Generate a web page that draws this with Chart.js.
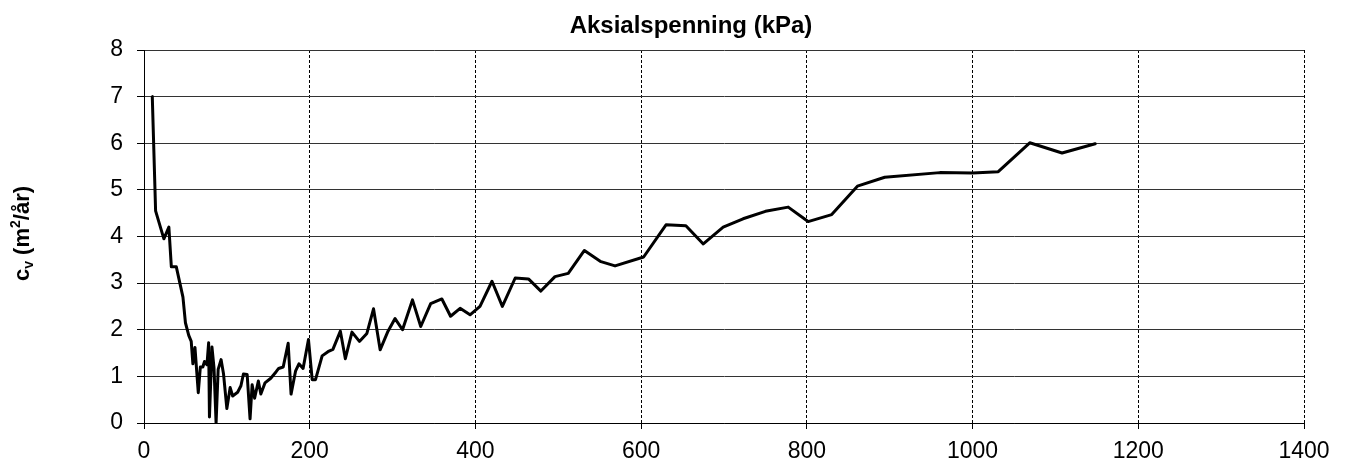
<!DOCTYPE html>
<html>
<head>
<meta charset="utf-8">
<title>Aksialspenning og cv</title>
<script src="https://cdn.jsdelivr.net/npm/chart.js@4.4.1/dist/chart.umd.min.js"></script>
<style>
  html, body { margin: 0; padding: 0; background: #ffffff; }
  canvas { display: block; }
</style>
</head>
<body>
<canvas id="chart" width="1349" height="462"></canvas>
<script>
// Aksialspenning (kPa)
const stress = [
  10, 14, 24, 30, 33, 39, 47, 50, 54, 57,
  59, 61.5, 65.5, 68, 71, 73, 76, 78, 79, 82,
  84.5, 87, 89.5, 93, 96, 100, 104, 107, 113, 117,
  120, 124.5, 128, 130.5, 133.5, 138, 141, 146, 153, 159.5,
  162.5, 168, 174, 177.5, 183, 187, 192, 198.5, 203, 207,
  215, 222, 228, 237, 243, 251, 260, 269, 277, 285,
  294, 303, 312, 324, 334, 346, 359.5, 370, 381.5, 393.5,
  405.5, 420, 432.5, 448, 464, 479, 496, 512, 531.5, 551.5,
  568.5, 603, 630, 654, 675, 699, 723, 750, 777.5, 801.5,
  830, 861, 894, 960.5, 1000, 1031, 1069, 1108, 1148
];

// cv (m²/år)
const cv = [
  7.00, 4.55, 3.95, 4.20, 3.35, 3.35, 2.70, 2.15, 1.88, 1.75,
  1.27, 1.62, 0.65, 1.20, 1.20, 1.32, 1.25, 1.72, 0.13, 1.63,
  1.18, 0.00, 1.15, 1.36, 1.05, 0.31, 0.76, 0.58, 0.66, 0.80,
  1.05, 1.04, 0.09, 0.82, 0.53, 0.90, 0.62, 0.86, 0.96, 1.10,
  1.17, 1.20, 1.71, 0.62, 1.12, 1.27, 1.17, 1.79, 0.93, 0.93,
  1.44, 1.53, 1.58, 1.97, 1.38, 1.95, 1.75, 1.92, 2.45, 1.57,
  1.95, 2.24, 2.00, 2.64, 2.07, 2.56, 2.66, 2.29, 2.46, 2.32,
  2.50, 3.04, 2.50, 3.11, 3.09, 2.83, 3.14, 3.21, 3.70, 3.46,
  3.37, 3.56, 4.25, 4.23, 3.84, 4.20, 4.38, 4.54, 4.63, 4.32,
  4.47, 5.08, 5.27, 5.37, 5.36, 5.39, 6.01, 5.79, 5.99
];

const xTicks = [0, 200, 400, 600, 800, 1000, 1200, 1400];
const yTicks = [0, 1, 2, 3, 4, 5, 6, 7, 8];

const titleText = 'Aksialspenning (kPa)';
const FONT = '"Liberation Sans", Arial, sans-serif';

const points = stress.map((x, i) => ({ x: x, y: cv[i] }));

// Axis title on top and the rotated cv label with sub/superscript
const labelsPlugin = {
  id: 'axisLabels',
  afterDraw(chart) {
    const ctx = chart.ctx;
    const area = chart.chartArea;
    ctx.save();
    ctx.fillStyle = '#000000';
    ctx.font = 'bold 24px ' + FONT;
    ctx.textAlign = 'center';
    ctx.textBaseline = 'alphabetic';
    ctx.fillText(titleText, 691, 33);
    ctx.restore();

    // c_v (m²/år), rotated
    const parts = [
      { t: 'c', size: 22, dy: 0 },
      { t: 'v', size: 14, dy: 4 },
      { t: ' (m', size: 22, dy: 0 },
      { t: '2', size: 14, dy: -9 },
      { t: '/år)', size: 22, dy: 0 }
    ];
    ctx.save();
    ctx.fillStyle = '#000000';
    let total = 0;
    parts.forEach(p => {
      ctx.font = 'bold ' + p.size + 'px ' + FONT;
      p.w = ctx.measureText(p.t).width;
      total += p.w;
    });
    const cy = (area.top + area.bottom) / 2 - 3;
    ctx.translate(29, cy);
    ctx.rotate(-Math.PI / 2);
    ctx.textAlign = 'left';
    ctx.textBaseline = 'alphabetic';
    let xPos = -total / 2;
    parts.forEach(p => {
      ctx.font = 'bold ' + p.size + 'px ' + FONT;
      ctx.fillText(p.t, xPos, p.dy);
      xPos += p.w;
    });
    ctx.restore();
  }
};

new Chart(document.getElementById('chart'), {
  type: 'line',
  data: {
    datasets: [{
      data: points,
      borderColor: '#000000',
      borderWidth: 3,
      borderJoinStyle: 'round',
      borderCapStyle: 'round',
      pointRadius: 0,
      pointHoverRadius: 0,
      tension: 0,
      fill: false
    }]
  },
  options: {
    responsive: false,
    animation: false,
    devicePixelRatio: 1,
    layout: { padding: { left: 0, right: 45, top: 50, bottom: 0 } },
    plugins: {
      legend: { display: false },
      title: { display: false },
      tooltip: { enabled: false }
    },
    scales: {
      x: {
        type: 'linear',
        min: xTicks[0],
        max: xTicks[xTicks.length - 1],
        afterBuildTicks(scale) { scale.ticks = xTicks.map(v => ({ value: v })); },
        afterFit(scale) { scale.height = 39; },
        ticks: {
          color: '#000000',
          font: { family: FONT, size: 23 },
          padding: 9,
          maxRotation: 0,
          autoSkip: false,
          callback: v => String(v)
        },
        grid: {
          color: '#000000',
          lineWidth: 1,
          tickLength: 6,
          tickColor: '#000000'
        },
        border: { display: true, color: '#000000', width: 1, dash: [3, 2] }
      },
      y: {
        type: 'linear',
        min: yTicks[0],
        max: yTicks[yTicks.length - 1],
        afterBuildTicks(scale) { scale.ticks = yTicks.map(v => ({ value: v })); },
        afterFit(scale) { scale.width = 144; },
        ticks: {
          color: '#000000',
          font: { family: FONT, size: 23 },
          padding: 14,
          autoSkip: false,
          callback: v => String(v)
        },
        grid: {
          color: '#333333',
          lineWidth: 1,
          tickLength: 7,
          tickColor: '#000000'
        },
        border: { display: true, color: '#000000', width: 1 }
      }
    }
  },
  plugins: [labelsPlugin]
});
</script>
</body>
</html>
